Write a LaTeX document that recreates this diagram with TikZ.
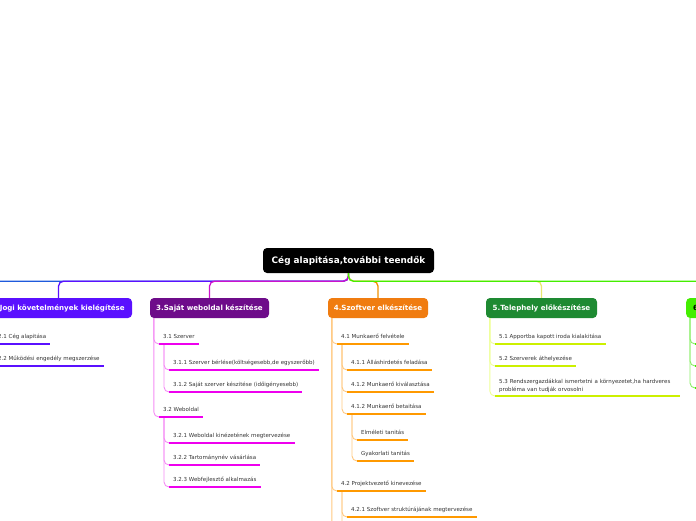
\documentclass[tikz,border=0pt]{standalone}
\usepackage{fontspec}
\setmainfont{DejaVu Sans}
\definecolor{cblue}{RGB}{30,90,220}
\definecolor{cvio}{RGB}{90,16,255}
\definecolor{cvioll}{RGB}{170,130,255}
\definecolor{cpurbox}{RGB}{110,12,138}
\definecolor{cmag}{RGB}{204,17,204}
\definecolor{cmagl}{RGB}{244,140,244}
\definecolor{cmagu}{RGB}{238,0,238}
\definecolor{corbox}{RGB}{240,124,16}
\definecolor{corl}{RGB}{240,144,0}
\definecolor{corll}{RGB}{255,200,128}
\definecolor{coru}{RGB}{255,153,0}
\definecolor{cgrbox}{RGB}{30,138,50}
\definecolor{cyel}{RGB}{232,232,112}
\definecolor{cyell}{RGB}{238,255,150}
\definecolor{cyelu}{RGB}{204,240,0}
\definecolor{cgr6}{RGB}{68,238,0}
\definecolor{cgr6l}{RGB}{136,238,102}
\definecolor{ctxt}{RGB}{51,51,51}
\tikzset{
  topbox/.style={rounded corners=4pt, minimum height=20pt, inner sep=0pt,
    font=\bfseries\fontsize{7.1}{8}\selectfont, text=white},
  subbase/.style={anchor=south west, inner xsep=4pt, inner ysep=3.6pt,
    font=\fontsize{5.5}{8}\selectfont, text=ctxt},
  subitem/.style={subbase, text height=4.1pt, text depth=1.4pt},
  ulin/.style={line width=2.4pt},
  topline/.style={line width=1.3pt, rounded corners=5pt},
  brline/.style={line width=0.9pt, rounded corners=5pt}
}
\begin{document}
\begin{tikzpicture}[x=1pt,y=-1pt]
\useasboundingbox (0,0) rectangle (696,520);
\clip (0,0) rectangle (696,520);
% root and main boxes
\node[topbox, fill=black, minimum width=171pt, minimum height=25pt,
  font=\bfseries\fontsize{8.9}{10}\selectfont] (root) at (348.5,260.5) {Cég alapitása,további teendők};
\coordinate (b1) at (-80,298);
\node[topbox, fill=cvio, minimum width=147pt] (b2) at (58.5,308) {2.Jogi követelmények kielégítése};
\node[topbox, fill=cpurbox, minimum width=119pt] (b3) at (209.5,308) {3.Saját weboldal készítése};
\node[topbox, fill=corbox, minimum width=100pt] (b4) at (378,308) {4.Szoftver elkészítése};
\node[topbox, fill=cgrbox, minimum width=111pt] (b5) at (541.5,308) {5.Telephely előkészítése};
\node[topbox, fill=cgr6, text=black, anchor=west, inner xsep=7pt, text width=96pt, align=left] (b6) at (686,308) {6};
% top connectors
\draw[topline, cblue] (root.south) -- ++(0,8) -| (b1);
\draw[topline, cvio] (root.south) -- ++(0,8) -| (b2.north);
\draw[topline, cmag] (root.south) -- ++(0,8) -| (b3.north);
\draw[topline, corl] (root.south) -- ++(0,8) -| (b4.north);
\draw[topline, cyel] (root.south) -- ++(0,8) -| (b5.north);
\draw[topline, cgr6] (root.south) -- ++(0,8) -| (b6.north);
% sub items
\node[subitem] (s21) at (-6,344) {2.1 Cég alapitása};
\node[subitem] (s22) at (-6,366) {2.2 Működési engedély megszerzése};
\node[subitem] (s31) at (159,344) {3.1 Szerver};
\node[subitem] (s311) at (169,370) {3.1.1 Szerver bérlése(költségesebb,de egyszerőbb)};
\node[subitem] (s312) at (169,392) {3.1.2 Saját szerver készitése (időigényesebb)};
\node[subitem] (s32) at (159,417) {3.2 Weboldal};
\node[subitem] (s321) at (169,443) {3.2.1 Weboldal kinézetének megtervezése};
\node[subitem] (s322) at (169,465) {3.2.2 Tartománynév vásárlása};
\node[subitem] (s323) at (169,487) {3.2.3 Webfejlesztő alkalmazás};
\node[subitem] (s41) at (337,344) {4.1 Munkaerő felvétele};
\node[subitem] (s411) at (347,370) {4.1.1 Álláshirdetés feladása};
\node[subitem] (s412) at (347,392) {4.1.2 Munkaerő kiválasztása};
\node[subitem] (s413) at (347,414) {4.1.2 Munkaerő betaitása};
\node[subitem] (s4131) at (357,440) {Elméleti tanitás};
\node[subitem] (s4132) at (357,461) {Gyakorlati tanitás};
\node[subitem] (s42) at (337,491) {4.2 Projektvezető kinevezése};
\node[subitem] (s421) at (347,517) {4.2.1 Szoftver struktúrájának megtervezése};
\coordinate (s43) at (337,560);
\coordinate (s422) at (347,545);
\node[subitem] (s51) at (495,344) {5.1 Apportba kapott iroda kialakitása};
\node[subitem] (s52) at (495,366) {5.2 Szerverek áthelyezése};
\node[subbase, text width=177pt, align=left] (s53) at (495,396) {5.3 Rendszergazdákkal ismertetni a környezetet,ha hardveres\\probléma van tudják orvosolni};
\coordinate (s61) at (695,344);
\coordinate (s62) at (695,366);
\coordinate (s63) at (695,388);
% branch lines
\draw[brline, cvioll] ([xshift=4pt]b2.south west) |- (s21.south west);
\draw[brline, cvioll] ([xshift=4pt]b2.south west) |- (s22.south west);
\draw[brline, cmagl] ([xshift=4pt]b3.south west) |- (s31.south west);
\draw[brline, cmagl] ([xshift=4pt]b3.south west) |- (s32.south west);
\draw[brline, cmagl] ([xshift=5pt]s31.south west) |- (s311.south west);
\draw[brline, cmagl] ([xshift=5pt]s31.south west) |- (s312.south west);
\draw[brline, cmagl] ([xshift=5pt]s32.south west) |- (s321.south west);
\draw[brline, cmagl] ([xshift=5pt]s32.south west) |- (s322.south west);
\draw[brline, cmagl] ([xshift=5pt]s32.south west) |- (s323.south west);
\draw[brline, corll] ([xshift=4pt]b4.south west) |- (s41.south west);
\draw[brline, corll] ([xshift=4pt]b4.south west) |- (s42.south west);
\draw[brline, corll] ([xshift=4pt]b4.south west) |- (s43);
\draw[brline, corll] ([xshift=5pt]s41.south west) |- (s411.south west);
\draw[brline, corll] ([xshift=5pt]s41.south west) |- (s412.south west);
\draw[brline, corll] ([xshift=5pt]s41.south west) |- (s413.south west);
\draw[brline, corll] ([xshift=5pt]s413.south west) |- (s4131.south west);
\draw[brline, corll] ([xshift=5pt]s413.south west) |- (s4132.south west);
\draw[brline, corll] ([xshift=5pt]s42.south west) |- (s421.south west);
\draw[brline, corll] ([xshift=5pt]s42.south west) |- (s422);
\draw[brline, cyell] ([xshift=4pt]b5.south west) |- (s51.south west);
\draw[brline, cyell] ([xshift=4pt]b5.south west) |- (s52.south west);
\draw[brline, cyell] ([xshift=4pt]b5.south west) |- (s53.south west);
\draw[brline, cgr6l] ([xshift=4pt]b6.south west) |- (s61);
\draw[brline, cgr6l] ([xshift=4pt]b6.south west) |- (s62);
\draw[brline, cgr6l] ([xshift=4pt]b6.south west) |- (s63);
% underlines
\foreach \n in {s21,s22}{\draw[ulin, cvio] (\n.south west) -- (\n.south east);}
\foreach \n in {s31,s311,s312,s32,s321,s322,s323}{\draw[ulin, cmagu] (\n.south west) -- (\n.south east);}
\foreach \n in {s41,s411,s412,s413,s4131,s4132,s42,s421}{\draw[ulin, coru] (\n.south west) -- (\n.south east);}
\foreach \n in {s51,s52,s53}{\draw[ulin, cyelu] (\n.south west) -- (\n.south east);}
\foreach \n in {s61,s62,s63}{\draw[ulin, cgr6] (\n) -- ++(12,0);}
\end{tikzpicture}
\end{document}
